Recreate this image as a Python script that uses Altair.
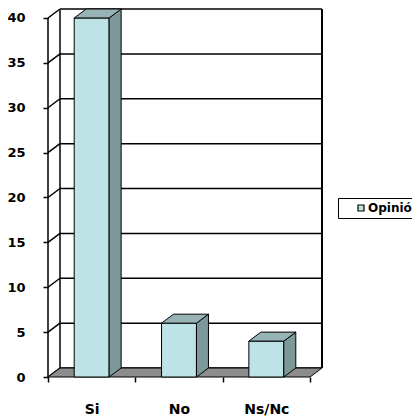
import altair as alt
import pandas as pd

# ---- data ----
categories = ["Si", "No", "Ns/Nc"]
values = [40, 6, 4]
series_name = "Opinió"
y_ticks = [0, 5, 10, 15, 20, 25, 30, 35, 40]

# ---- 3D styling constants (depth of the box, bar width within a band) ----
DX = 0.1374   # depth in x units
DY = 1.0      # depth in y units
BAR_L, BAR_R = 0.3, 0.7
N = len(categories)
XMAX = N + DX
YTOP = max(y_ticks)
YMAX = YTOP + DY

FRONT = "#BEE3E6"
SIDE = "#7C9898"
TOP = "#98B3B5"
FLOOR = "#8C8C8C"
FONT = "DejaVu Sans"

xs = alt.Scale(domain=[0, XMAX], nice=False, zero=False)
ys = alt.Scale(domain=[0, YMAX], nice=False, zero=False)

label_expr = "[" + ",".join("'" + c + "'" for c in categories) + ",''][datum.value]"
AX = alt.Axis(
    values=list(range(N + 1)), labelExpr=label_expr, title=None,
    domain=False, grid=False, tickSize=5, tickColor="black", tickWidth=1.5,
    labelOffset=43.67, labelPadding=20, labelFont=FONT, labelFontSize=14,
    labelFontWeight="bold", labelColor="black", labelOverlap=False, labelBound=False,
    labelFlush=False,
)
AY = alt.Axis(
    values=y_ticks, title=None, domain=False, grid=False, tickSize=5,
    tickColor="black", tickWidth=1.5, labelPadding=18, labelFont=FONT,
    labelFontSize=13, labelFontWeight="bold", labelColor="black",
    labelOverlap=False, labelBound=False, labelFlush=False,
)

# tables built from the arrays
bars = pd.DataFrame({
    "cat": categories,
    "val": values,
    "x0": [i + BAR_L for i in range(N)],
    "x1": [i + BAR_R for i in range(N)],
    "zero": [0] * N,
    "series": [series_name] * N,
})
side_rows, top_rows = [], []
for i, (c, v) in enumerate(zip(categories, values)):
    for t in (0, 1):
        side_rows.append({"cat": c, "x": i + BAR_R + t * DX, "ylo": t * DY, "yhi": v + t * DY})
        top_rows.append({"cat": c, "y": v + t * DY, "xa": i + BAR_L + t * DX, "xb": i + BAR_R + t * DX})
side = pd.DataFrame(side_rows)
top = pd.DataFrame(top_rows)
grid = pd.DataFrame({"v": y_ticks})
grid["vb"] = grid["v"] + DY
grid["x0"] = 0.0
grid["xd"] = DX
grid["xe"] = N + DX
floor = pd.DataFrame({"y": [0, DY], "xa": [0, DX], "xb": [N, N + DX]})
edges = pd.DataFrame({
    "x": [DX, N + DX, 0],
    "y": [DY, DY, 0],
    "y2": [YMAX, YMAX, YTOP],
    "w": [1.5, 2.0, 1.5],
})

back_grid = alt.Chart(grid).mark_rule(color="black", strokeWidth=1.5).encode(
    x=alt.X("xd:Q", scale=xs, axis=AX), x2="xe:Q",
    y=alt.Y("vb:Q", scale=ys, axis=AY),
)
left_grid = alt.Chart(grid).mark_rule(color="black", strokeWidth=1.5).encode(
    x=alt.X("x0:Q", scale=xs, axis=AX), x2="xd:Q",
    y=alt.Y("v:Q", scale=ys, axis=AY), y2="vb:Q",
)
edge_lines = alt.Chart(edges).mark_rule(color="black").encode(
    x=alt.X("x:Q", scale=xs, axis=AX),
    y=alt.Y("y:Q", scale=ys, axis=AY), y2="y2:Q",
    strokeWidth=alt.StrokeWidth("w:Q", scale=None, legend=None),
)
floor_area = alt.Chart(floor).mark_area(
    orient="horizontal", color=FLOOR, stroke="black", strokeWidth=1
).encode(
    y=alt.Y("y:Q", scale=ys, axis=AY),
    x=alt.X("xa:Q", scale=xs, axis=AX), x2="xb:Q",
)
side_area = alt.Chart(side).mark_area(color=SIDE, stroke="black", strokeWidth=1).encode(
    x=alt.X("x:Q", scale=xs, axis=AX),
    y=alt.Y("ylo:Q", scale=ys, axis=AY), y2="yhi:Q",
    detail="cat:N",
)
top_area = alt.Chart(top).mark_area(
    orient="horizontal", color=TOP, stroke="black", strokeWidth=1
).encode(
    y=alt.Y("y:Q", scale=ys, axis=AY),
    x=alt.X("xa:Q", scale=xs, axis=AX), x2="xb:Q",
    detail="cat:N",
)
front = alt.Chart(bars).mark_bar(stroke="black", strokeWidth=1).encode(
    x=alt.X("x0:Q", scale=xs, axis=AX),
    x2="x1:Q",
    y=alt.Y("val:Q", scale=ys, axis=AY),
    y2="zero:Q",
    color=alt.Color("series:N", scale=alt.Scale(range=[FRONT]), legend=alt.Legend(
        title="\u00a0", titleOrient="left", titleFontSize=12, titlePadding=13,
        orient="none", legendX=290, legendY=189, strokeColor="black",
        padding=4, symbolType="square", symbolSize=36, symbolStrokeColor="black",
        symbolStrokeWidth=1.2, labelFont=FONT, labelFontSize=12,
        labelFontWeight="bold", labelColor="black", labelOffset=1,
    )),
)

chart = alt.layer(
    back_grid, left_grid, edge_lines, floor_area, front, side_area, top_area
).properties(
    width=274, height=368,
    autosize=alt.AutoSizeParams(type="none"),
    padding={"left": 40, "top": 1, "right": 90, "bottom": 41},
    background="white",
).configure_view(stroke=None)

chart.save("out.html", embed_options={"renderer": "svg", "actions": False})
